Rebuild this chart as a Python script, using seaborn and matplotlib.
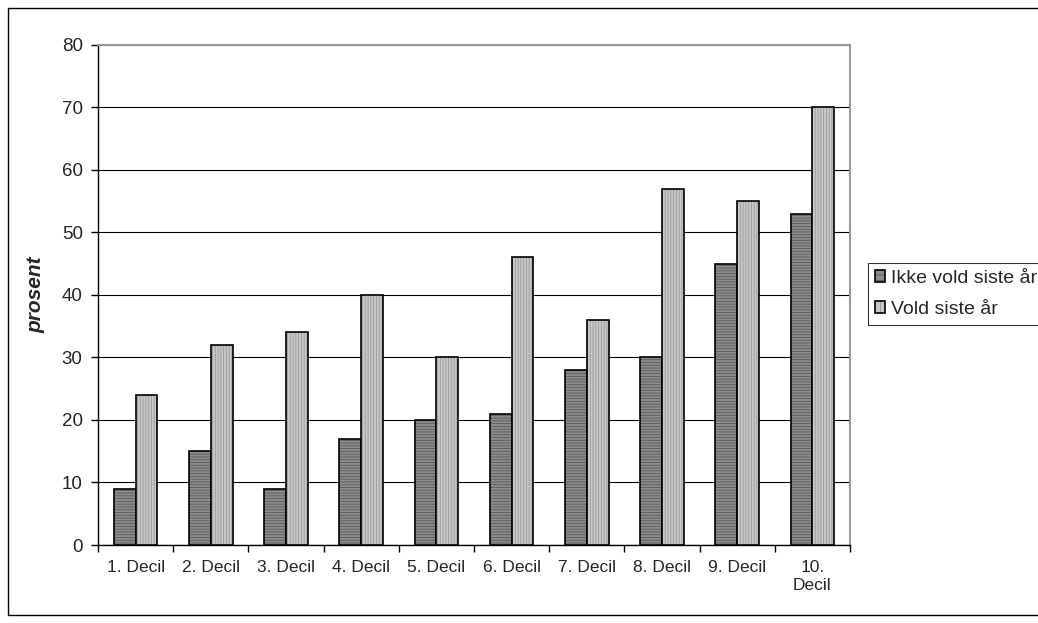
import pandas as pd
import seaborn as sns
import matplotlib.pyplot as plt
from matplotlib.patches import Rectangle

categories = ["1. Decil", "2. Decil", "3. Decil", "4. Decil", "5. Decil",
              "6. Decil", "7. Decil", "8. Decil", "9. Decil", "10. Decil"]
tick_labels = ["1. Decil", "2. Decil", "3. Decil", "4. Decil", "5. Decil",
               "6. Decil", "7. Decil", "8. Decil", "9. Decil", "10.\nDecil"]
ikke_vold = [9, 15, 9, 17, 20, 21, 28, 30, 45, 53]
vold = [24, 32, 34, 40, 30, 46, 36, 57, 55, 70]
series = ["Ikke vold siste år", "Vold siste år"]

df = pd.DataFrame({
    "decil": categories * 2,
    "prosent": ikke_vold + vold,
    "gruppe": [series[0]] * 10 + [series[1]] * 10,
})

sns.set_style("white")
plt.rcParams["font.family"] = ["Liberation Sans", "DejaVu Sans"]
plt.rcParams["hatch.linewidth"] = 0.6

fig = plt.figure(figsize=(10.38, 6.23), dpi=100)
ax = fig.add_axes([0.0944, 0.1252, 0.7245, 0.8026])

sns.barplot(data=df, x="decil", y="prosent", hue="gruppe", order=categories,
            hue_order=series, palette=["#8c8c8c", "#c8c8c8"], width=0.58,
            edgecolor="black", linewidth=1.2, saturation=1, ax=ax, zorder=3)

# hatching like the old office pattern fills
hatches = ["------", "||||||"]
hatch_cols = [(0.35, 0.35, 0.35, 1), (0.6, 0.6, 0.6, 1)]
for i, bar in enumerate(ax.patches[:20]):
    k = i // 10
    bar.set_hatch(hatches[k])
    bar._hatch_color = hatch_cols[k]

ax.set_ylim(0, 80)
ax.set_xlim(-0.5, 9.5)
ax.set_yticks(range(0, 81, 10))
ax.yaxis.grid(True, color="black", linewidth=0.8, zorder=0)
ax.set_axisbelow(True)

ax.set_xticks([i + 0.5 for i in range(-1, 10)], minor=False)
ax.set_xticklabels([])
ax.set_xticks(range(10), minor=True)
ax.set_xticklabels(tick_labels, minor=True, fontsize=12.5, va="top")
ax.tick_params(axis="x", which="minor", length=0, pad=11)
ax.tick_params(axis="x", which="major", length=5, width=1, color="black",
               direction="out", bottom=True)
ax.tick_params(axis="y", length=5, width=1, color="black", direction="out",
               left=True, labelsize=13.5, pad=6)
ax.set_xlabel("")
ax.set_ylabel("prosent", fontsize=15, fontweight="bold", fontstyle="italic",
              labelpad=12)

for s in ["left", "bottom"]:
    ax.spines[s].set_color("black")
    ax.spines[s].set_linewidth(1)
for s in ["top", "right"]:
    ax.spines[s].set_visible(True)
    ax.spines[s].set_color("#999999")
    ax.spines[s].set_linewidth(1.5)

ax.get_legend().remove()
handles, labels = ax.get_legend_handles_labels()
leg = fig.legend(handles, labels, loc="center left",
                 bbox_to_anchor=(0.836, 0.528), frameon=True, fontsize=14,
                 handlelength=0.55, handleheight=0.55, handletextpad=0.3,
                 borderpad=0.35, labelspacing=0.72, borderaxespad=0,
                 fancybox=False)
leg.get_frame().set_edgecolor("black")
leg.get_frame().set_linewidth(0.8)
for k, h in enumerate(leg.legend_handles):
    h.set_hatch(hatches[k][:3])
    h._hatch_color = hatch_cols[k]

fig.add_artist(Rectangle((8 / 1038, 8 / 623), 1.2, 1 - 16 / 623,
                         transform=fig.transFigure, fill=False,
                         edgecolor="black", linewidth=1))

fig.savefig("out.png", dpi=100)
